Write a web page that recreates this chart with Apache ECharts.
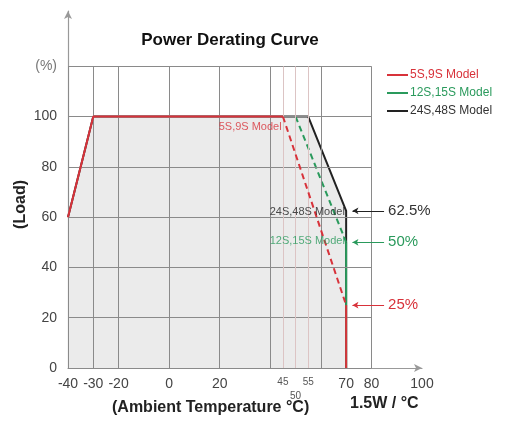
<!DOCTYPE html>
<html><head><meta charset="utf-8">
<script src="https://cdn.jsdelivr.net/npm/echarts@6/dist/echarts.min.js"></script>
<style>html,body{margin:0;padding:0;background:#fff}#c{width:515px;height:424px}</style>
</head><body><div id="c"></div>
<script>
// ---- data ----
const xTickLabels = [-40, -30, -20, 0, 20, 45, 50, 55, 70, 80, 100];
const gridX = [-40, -30, -20, 0, 20, 40, 60, 80];
const gridXMinor = [45, 50, 55];
const gridY = [0, 20, 40, 60, 80, 100, 120];
const model5S_solid = [[-40, 60], [-30, 100], [45, 100]];
const model5S_dash = [[45, 100], [70, 25]];
const model5S_drop = [[70, 25], [70, 0]];
const model12S_dash = [[50, 100], [70, 50]];
const model12S_drop = [[70, 50], [70, 0]];
const model24S = [[-40, 60], [-30, 100], [55, 100], [70, 62.5], [70, 0]];
const endLoads = [62.5, 50, 25];
const endLabels = ['62.5%', '50%', '25%'];
const names = ['5S,9S Model', '12S,15S Model', '24S,48S Model'];
const RED = '#d8323a', GREEN = '#2a9a5c', BLACK = '#222222';
const FONT = 'Liberation Sans, Arial, sans-serif';

const chart = echarts.init(document.getElementById('c'));
const gridLineData = [];
gridX.forEach(x => gridLineData.push([{coord: [x, 0]}, {coord: [x, 120]}]));
gridY.forEach(y => gridLineData.push([{coord: [-40, y]}, {coord: [80, y]}]));
const minorLineData = gridXMinor.map(x => [{coord: [x, 0]}, {coord: [x, 120]}]);

const arrowColors = [BLACK, GREEN, RED];
const arrowData = endLoads.map((v, i) => [
  {coord: [72.5, v], lineStyle: {color: arrowColors[i]}},
  {coord: [85, v], lineStyle: {color: arrowColors[i]},
   label: {show: true, position: 'end', formatter: endLabels[i], color: i === 0 ? '#333' : arrowColors[i],
           fontSize: 15, fontFamily: FONT, distance: 4}}
]);

chart.setOption({
  animation: false,
  title: {text: 'Power Derating Curve', left: 225, top: 27, textAlign: 'center',
    textStyle: {fontSize: 17, fontWeight: 'bold', color: '#111', fontFamily: FONT}},
  legend: {
    orient: 'vertical', left: 382, top: 64, itemWidth: 21, itemHeight: 2, itemGap: 6,
    icon: 'rect',
    data: [
      {name: names[0], textStyle: {color: RED}},
      {name: names[1], textStyle: {color: GREEN}},
      {name: names[2], textStyle: {color: '#333'}}
    ],
    textStyle: {fontSize: 12, fontFamily: FONT, padding: [0, 0, 0, -3]}
  },
  grid: {left: 68, right: 93, top: 11, bottom: 56},
  xAxis: {
    type: 'value', min: -40, max: 100, interval: 5,
    axisLine: {show: true, onZero: false, lineStyle: {color: '#999', width: 1.2}, symbol: ['none', 'arrow'], symbolSize: [6, 8]},
    axisTick: {show: false}, splitLine: {show: false},
    axisLabel: {
      margin: 9, color: '#444', fontFamily: FONT, fontSize: 14,
      formatter: v => {
        if (!xTickLabels.includes(v)) return '';
        if (v === 45 || v === 55) return '{s|' + v + '}';
        if (v === 50) return '{d|' + v + '}';
        return String(v);
      },
      rich: {
        s: {fontSize: 10, color: '#555', fontFamily: FONT, padding: [0, 0, 6, 0]},
        d: {fontSize: 10, color: '#555', fontFamily: FONT, padding: [14, 0, 0, 0]}
      }
    }
  },
  yAxis: {
    type: 'value', min: 0, max: 142, interval: 20,
    axisLine: {show: true, onZero: false, lineStyle: {color: '#999', width: 1.2}, symbol: ['none', 'arrow'], symbolSize: [6, 8]},
    axisTick: {show: false}, splitLine: {show: false},
    axisLabel: {
      margin: 11, color: '#444', fontFamily: FONT, fontSize: 14,
      formatter: v => v === 120 ? '{p|(%)}' : (v > 120 ? '' : String(v)),
      rich: {p: {fontSize: 14, color: '#777', fontFamily: FONT}}
    }
  },
  graphic: [
    {type: 'text', left: 112, top: 400, style: {text: '(Ambient Temperature °C)', font: 'bold 16px ' + FONT, fill: '#222'}},
    {type: 'text', left: 350, top: 396, style: {text: '1.5W / °C', font: 'bold 16px ' + FONT, fill: '#222'}},
    {type: 'text', left: 13, top: 180, rotation: Math.PI / 2, originX: 0, originY: 0,
     style: {text: '(Load)', font: 'bold 16px ' + FONT, fill: '#222'}}
  ],
  series: [
    {type: 'line', name: 'fill', data: model24S, symbol: 'none', lineStyle: {width: 0},
     areaStyle: {color: '#ebebeb', opacity: 1}, z: 1, silent: true},
    {type: 'line', name: 'grid', data: [], z: 2, silent: true,
     markLine: {silent: true, symbol: 'none', label: {show: false},
       lineStyle: {color: '#8a8a8a', width: 1, type: 'solid'}, data: gridLineData}},
    {type: 'line', name: 'minor', data: [], z: 2, silent: true,
     markLine: {silent: true, symbol: 'none', label: {show: false},
       lineStyle: {color: '#dcc4c4', width: 1, type: 'solid'}, data: minorLineData}},
    {type: 'line', name: names[2], data: model24S, symbol: 'none', color: BLACK,
     lineStyle: {color: BLACK, width: 2}, z: 3},
    {type: 'line', name: names[1], data: model12S_dash, symbol: 'none', color: GREEN,
     lineStyle: {color: GREEN, width: 2, type: [6, 4]}, z: 4},
    {type: 'line', name: names[1], data: model12S_drop, symbol: 'none', color: GREEN,
     lineStyle: {color: GREEN, width: 2}, z: 4},
    {type: 'line', name: names[0], data: model5S_solid, symbol: 'none', color: RED,
     lineStyle: {color: RED, width: 2}, z: 5},
    {type: 'line', name: names[0], data: model5S_dash, symbol: 'none', color: RED,
     lineStyle: {color: RED, width: 2, type: [6, 4]}, z: 5},
    {type: 'line', name: names[0], data: model5S_drop, symbol: 'none', color: RED,
     lineStyle: {color: RED, width: 2}, z: 5},
    {type: 'scatter', name: 'labels', symbolSize: 0, z: 6, silent: true,
     data: [
       {value: [44.5, 96], label: {formatter: '5S,9S Model', color: RED}},
       {value: [69.5, 62], label: {formatter: '24S,48S Model', color: '#222'}},
       {value: [69.5, 50.5], label: {formatter: '12S,15S Model', color: GREEN}}
     ],
     label: {show: true, position: 'left', distance: 0, fontSize: 11, fontFamily: FONT}},
    {type: 'line', name: 'arrows', data: [], z: 6, silent: true,
     markLine: {silent: true, symbol: ['arrow', 'none'], symbolSize: [5, 6],
       lineStyle: {width: 1, type: 'solid'}, data: arrowData}}
  ]
});
</script></body></html>
